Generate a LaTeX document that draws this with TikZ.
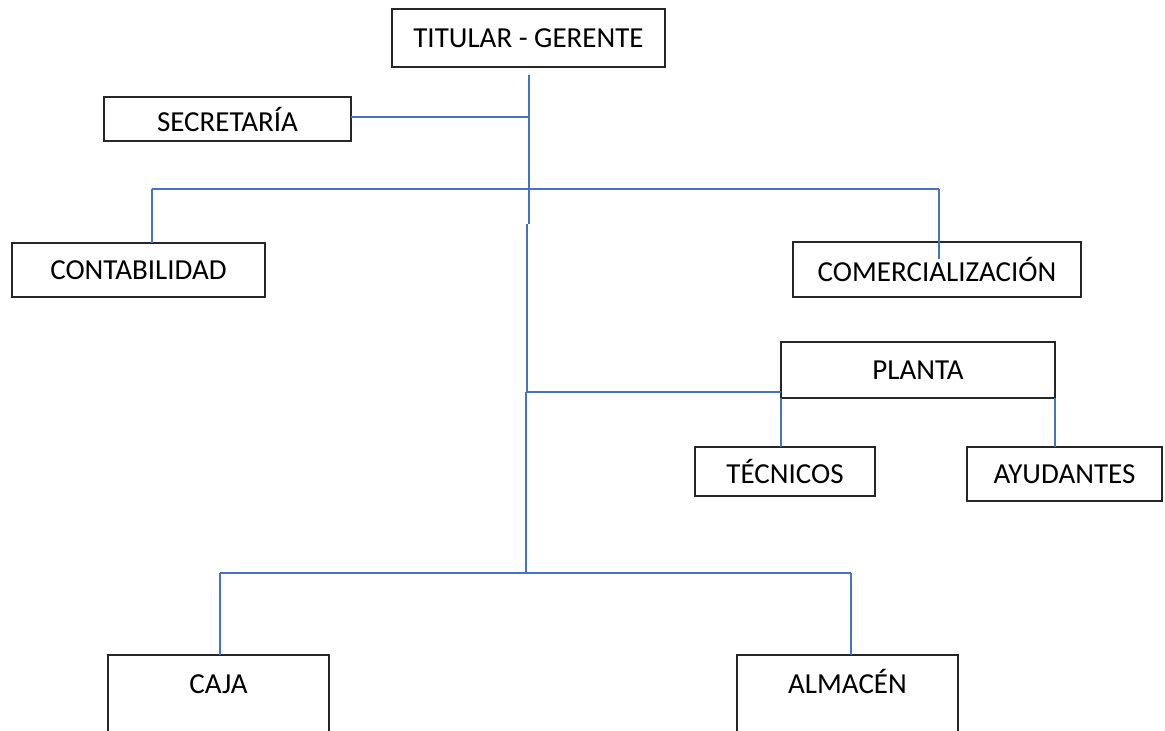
\documentclass[tikz,border=0pt]{standalone}
\usepackage{fontspec}
\setmainfont{Carlito}
\definecolor{linkblue}{RGB}{68,114,196}

\begin{document}
\begin{tikzpicture}[x=1pt, y=-1pt, font=\fontsize{29}{34}\selectfont,
box/.style={draw=black!85, line width=1.3pt, rectangle, anchor=north west,
inner sep=0pt, outer sep=0pt},
openbox/.style={box, text height=38pt, text depth=90pt},
link/.style={draw=linkblue, line width=2pt}]
\clip (0,0) rectangle (1165,731);
% boxes
\node[box, minimum width=273, minimum height=58] (tit) at (392,9) {TITULAR - GERENTE};
\node[box, minimum width=247, minimum height=44] (sec) at (104,97) {SECRETARÍA};
\node[box, minimum width=253, minimum height=54] (cont) at (12,243) {CONTABILIDAD};
\node[box, minimum width=288, minimum height=55] (com) at (793,242) {COMERCIALIZACIÓN};
\node[box, minimum width=274, minimum height=56] (pla) at (781,342) {PLANTA};
\node[box, minimum width=180, minimum height=49] (tec) at (695,447) {TÉCNICOS};
\node[box, minimum width=195, minimum height=54] (ayu) at (967,447) {AYUDANTES};
\node[openbox, minimum width=221] (caja) at (108,655) {CAJA};
\node[openbox, minimum width=221] (alm) at (737,655) {ALMACÉN};
% spine
\coordinate (top) at (529,75);
\coordinate (s1) at (529,117);
\coordinate (s2) at (529,189);
\coordinate (s3) at (529,224);
\coordinate (s4) at (527,224);
\coordinate (s5) at (527,392);
\coordinate (s6) at (526,392);
\coordinate (s7) at (526,573);
\draw[link] (top) -- (s3) (s4) -- (s5) (s6) -- (s7);
% branches
\draw[link] (sec.east |- s1) -- (s1);
\coordinate (h1) at (152,189);
\coordinate (h2) at (939,189);
\coordinate (h3) at (939,259);
\draw[link] (h1) -- (h2);
\draw[link] (h1) -- (h1 |- cont.north);
\draw[link] (h2) -- (h3);
\draw[link] (s5) -- (pla.west |- s5);
\draw[link, line width=1.4pt] (pla.south west) -- (pla.south west |- tec.north);
\draw[link, line width=1.4pt] (pla.south east) -- (pla.south east |- ayu.north);
\coordinate (b1) at (220,573);
\coordinate (b2) at (851,573);
\draw[link] (b1) -- (b2);
\draw[link] (b1) -- (b1 |- caja.north);
\draw[link] (b2) -- (b2 |- alm.north);
\end{tikzpicture}
\end{document}
